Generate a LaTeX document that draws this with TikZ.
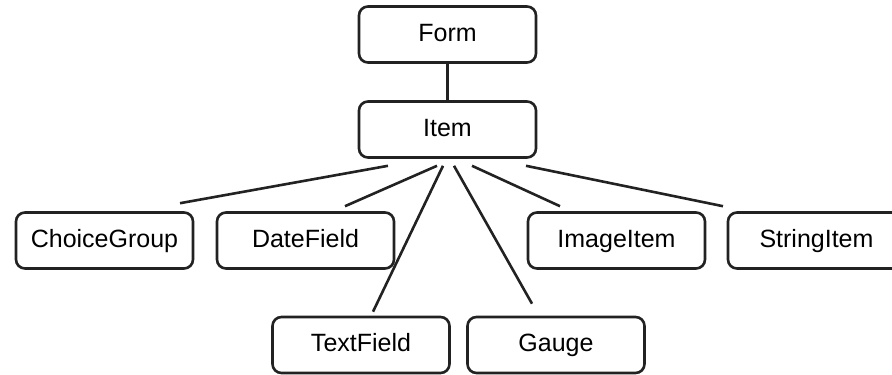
\documentclass[tikz,border=0pt]{standalone}
\usepackage{fontspec}
\setmainfont{Liberation Sans}
\usepackage{tikz}
\definecolor{linegray}{RGB}{34, 34, 34}
\tikzstyle{classbox} = [rectangle,rounded corners=9pt,draw=linegray,line width=2.6pt,minimum width=177pt,minimum height=56pt,inner sep=0pt,text height=18pt,text depth=5pt,font=\fontsize{25}{29}\selectfont]

\begin{document}
\begin{tikzpicture}[-,x=1pt,y=1pt,line width=2.6pt]
    \clip (0,0) rectangle (892,-375);

      \node[classbox] (form)  at (447.5,-34.5) {Form};
      \node[classbox] (item)  at (447.5,-129.5) {Item};
      \node[classbox] (cg)    at (104.5,-240.5) {ChoiceGroup};
      \node[classbox] (df)    at (305.5,-240.5) {DateField};
      \node[classbox] (ii)    at (616.5,-240.5) {ImageItem};
      \node[classbox] (si)    at (816.5,-240.5) {StringItem};
      \node[classbox] (tf)    at (361,-345) {TextField};
      \node[classbox] (gauge) at (556,-345) {Gauge};

      \draw[linegray] (form) -- (item);

      \path[draw=linegray]
        \foreach \child/\from/\to/\gap in {cg/-59.5/75.5/8, df/-10.5/39.5/5, tf/-4.5/12/4,
                                          gauge/6.5/-24/12, ii/24.5/-56.5/5, si/78.5/-93.5/5} {
          ([xshift=\from pt,yshift=-7pt]item.south) -- ([xshift=\to pt,yshift=\gap pt]\child.north)
        } ;
    \end{tikzpicture}
\end{document}
